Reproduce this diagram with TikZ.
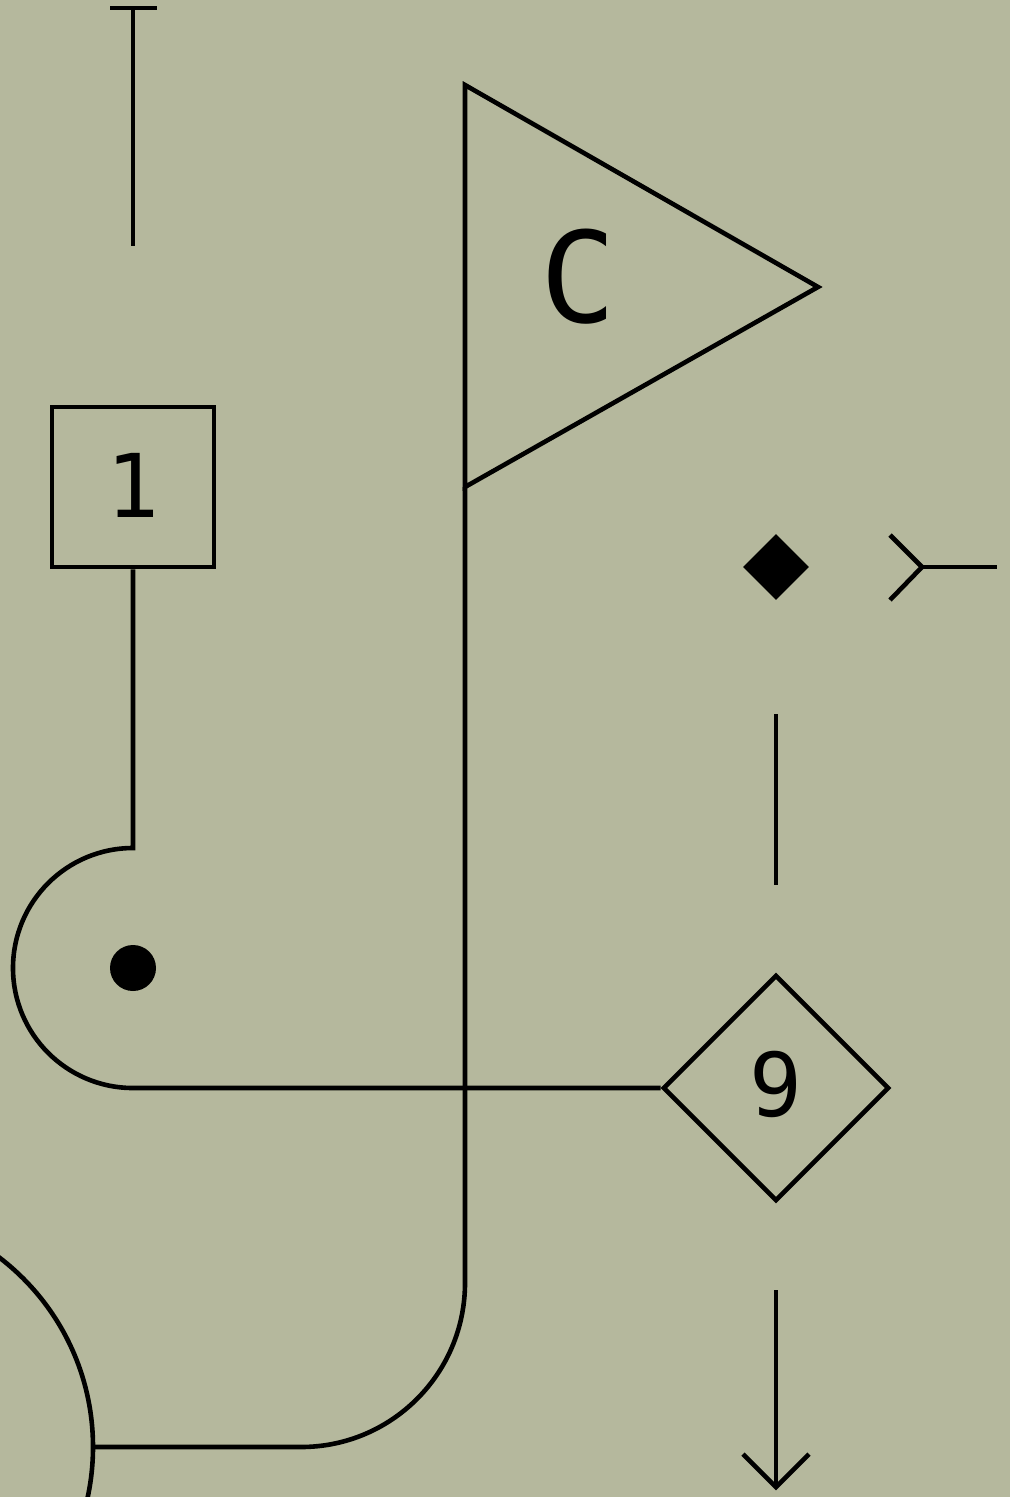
\documentclass[tikz,border=0pt]{standalone}
\usepackage{fontspec}
\newfontfamily\plexlike{DejaVu Sans Mono}
\usetikzlibrary{shapes.geometric}
\definecolor{bgc}{RGB}{181,184,157}
\tikzset{
  ln/.style={draw=black,line width=4.6pt,line cap=butt,line join=miter},
  lbl/.style={font=\plexlike\fontsize{88}{88}\selectfont,text=black,inner sep=0pt},
}
\begin{document}
\begin{tikzpicture}[x=1pt,y=-1pt]
\fill[bgc] (0,0) rectangle (1010,1497);
\useasboundingbox (0,0) rectangle (1010,1497);
\clip (0,0) rectangle (1010,1497);
% coordinates
\coordinate (tbarL) at (110,8);
\coordinate (tbarR) at (157,8);
\coordinate (ttop) at (133,8);
\coordinate (tbot) at (133,246);
\coordinate (vtop) at (776,714);
\coordinate (vbot) at (776,885);
\coordinate (atop) at (776,1290);
\coordinate (atip) at (776,1487);
\coordinate (aL) at (743,1454);
\coordinate (aR) at (809,1454);
\coordinate (chA) at (890,535);
\coordinate (chM) at (922,567);
\coordinate (chB) at (890,600);
\coordinate (chE) at (997,567);
\coordinate (f1) at (465,85);
\coordinate (f2) at (818,287);
\coordinate (f3) at (465,487);
\coordinate (fb) at (465,1283);
\coordinate (circR) at (93,1447);
% nodes
\node[ln,rectangle,minimum width=162pt,minimum height=160pt,inner sep=0pt] (one) at (133,487) {};
\node[lbl] (onet) at (133,485) {1};
\node[ln,diamond,minimum width=226pt,minimum height=226pt,inner sep=0pt] (nine) at (776,1088) {};
\node[lbl] (ninet) at (776,1084) {9};
\node[fill=black,diamond,minimum width=66pt,minimum height=66pt,inner sep=0pt] (smd) at (776,567) {};
\node[fill=black,circle,minimum size=46pt,inner sep=0pt] (dot) at (133,968) {};
\node[lbl,font=\plexlike\fontsize{126}{126}\selectfont] (ct) at (578,277) {C};
% T-bar line
\draw[ln] (tbarL) -- (tbarR);
\draw[ln] (ttop) -- (tbot);
% flag triangle
\draw[ln] (f1) -- (f2) -- (f3) -- cycle;
% square to semicircle to diamond
\draw[ln] (one.south) -- (133,848) arc[start angle=270,end angle=90,radius=120] -- (nine.west);
% flag pole down with rounded corner
\draw[ln] (f3) -- (fb) arc[start angle=0,end angle=90,radius=164] -- (circR);
% big circle
\draw[ln] (-145.5,1447) circle[radius=238.5];
% vertical segment
\draw[ln] (vtop) -- (vbot);
% down arrow
\draw[ln] (atop) -- (atip);
\draw[ln] (aL) -- (atip) -- (aR);
% chevron line
\draw[ln] (chA) -- (chM) -- (chB);
\draw[ln] (chM) -- (chE);
\end{tikzpicture}
\end{document}
